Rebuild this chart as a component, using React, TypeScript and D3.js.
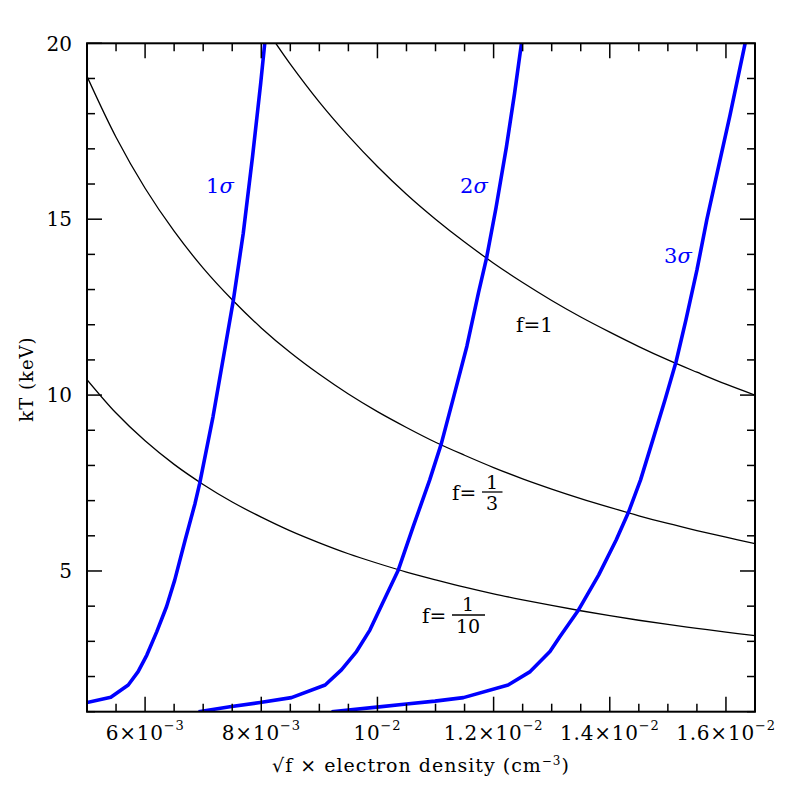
import * as d3 from "d3";

// densities are in units of 1e-3 cm^-3 (x axis is sqrt(f) * n_e)
const sigma1Density = [5.0, 5.41, 5.71, 5.88, 6.03, 6.2, 6.37, 6.51, 6.69, 6.86, 6.94, 7.17, 7.35, 7.52, 7.69, 7.85, 7.99, 8.06];
const sigma1KT = [1.26, 1.41, 1.76, 2.14, 2.61, 3.27, 3.99, 4.74, 5.88, 6.92, 7.49, 9.39, 11.09, 12.7, 14.6, 16.78, 18.86, 20.0];

const sigma2Density = [6.92, 7.46, 7.98, 8.52, 9.1, 9.38, 9.64, 9.87, 10.09, 10.36, 10.62, 10.9, 11.1, 11.3, 11.54, 11.74, 11.88, 12.04, 12.22, 12.36, 12.48];
const sigma2KT = [1.0, 1.14, 1.26, 1.4, 1.76, 2.19, 2.71, 3.32, 4.09, 5.03, 6.28, 7.59, 8.62, 9.87, 11.39, 12.91, 13.91, 15.31, 17.05, 18.57, 20.0];

const sigma3Density = [9.21, 9.99, 10.5, 10.99, 11.48, 12.25, 12.63, 12.97, 13.14, 13.45, 13.81, 14.11, 14.32, 14.53, 14.74, 14.95, 15.14, 15.31, 15.5, 15.67, 15.86, 16.07, 16.33];
const sigma3KT = [1.0, 1.13, 1.22, 1.3, 1.4, 1.76, 2.14, 2.71, 3.13, 3.86, 4.89, 5.88, 6.66, 7.59, 8.72, 9.86, 10.94, 12.13, 13.55, 14.98, 16.4, 17.96, 20.0];

const fOneDensity = [8.25, 8.5, 9, 9.5, 10, 10.5, 11, 11.5, 12, 12.5, 13, 13.5, 14, 14.5, 15, 15.5, 16, 16.5];
const fOneKT = [20.0, 19.41, 18.33, 17.37, 16.5, 15.71, 15.0, 14.35, 13.75, 13.2, 12.69, 12.22, 11.79, 11.38, 11.0, 10.65, 10.31, 10.0];

const fDensity = [5, 5.5, 6, 6.5, 7, 7.5, 8, 8.5, 9, 9.5, 10, 10.5, 11, 11.5, 12, 12.5, 13, 13.5, 14, 14.5, 15, 15.5, 16, 16.5];
const fThirdKT = [19.06, 17.33, 15.88, 14.66, 13.61, 12.71, 11.91, 11.21, 10.59, 10.03, 9.53, 9.08, 8.66, 8.29, 7.94, 7.62, 7.33, 7.06, 6.81, 6.57, 6.35, 6.15, 5.96, 5.78];
const fTenthKT = [10.44, 9.49, 8.7, 8.03, 7.46, 6.96, 6.53, 6.14, 5.8, 5.49, 5.22, 4.97, 4.75, 4.54, 4.35, 4.18, 4.02, 3.87, 3.73, 3.6, 3.48, 3.37, 3.26, 3.16];

const xMajorTicks = [6, 8, 10, 12, 14, 16];
const xTickMantissa = ["6", "8", "", "1.2", "1.4", "1.6"];
const xTickExponent = ["\u22123", "\u22123", "\u22122", "\u22122", "\u22122", "\u22122"];
const yMajorTicks = [5, 10, 15, 20];

const W = 797, H = 797;
const left = 87, right = 755, top = 43.3, bottom = 711.7;
const font = "'DejaVu Serif', serif";
const blue = "#0000ff";

export default function App() {
  const x = d3.scaleLinear().domain([5, 16.5]).range([left, right]);
  const y = d3.scaleLinear().domain([1, 20]).range([bottom, top]);

  const zip = (xs: number[], ys: number[]) => xs.map((v, i) => [v, ys[i]] as [number, number]);
  const line = d3.line<[number, number]>().x((d) => x(d[0])).y((d) => y(d[1]));
  const smooth = d3.line<[number, number]>().x((d) => x(d[0])).y((d) => y(d[1])).curve(d3.curveCatmullRom);

  const xMinor = d3.range(5, 16.51, 0.5).filter((v) => !xMajorTicks.includes(v));
  const yMinor = d3.range(1, 20.01, 1).filter((v) => !yMajorTicks.includes(v));

  const blackCurves = [zip(fOneDensity, fOneKT), zip(fDensity, fThirdKT), zip(fDensity, fTenthKT)];
  const blueCurves = [zip(sigma1Density, sigma1KT), zip(sigma2Density, sigma2KT), zip(sigma3Density, sigma3KT)];

  const major = 15, minor = 8;

  return (
    <svg width={W} height={H} style={{ position: "absolute", left: 0, top: 0, background: "#fff" }} fontFamily={font}>
      <defs>
        <clipPath id="plot">
          <rect x={left} y={top} width={right - left} height={bottom - top} />
        </clipPath>
      </defs>

      <g clipPath="url(#plot)" fill="none">
        {blackCurves.map((c, i) => (
          <path key={"b" + i} d={smooth(c) || ""} stroke="#000" strokeWidth={1.3} />
        ))}
        {blueCurves.map((c, i) => (
          <path key={"s" + i} d={line(c) || ""} stroke={blue} strokeWidth={3.6} strokeLinejoin="round" />
        ))}
      </g>

      {/* ticks on all four sides, pointing inward */}
      <g stroke="#000" strokeWidth={1.5}>
        {xMajorTicks.map((v) => (
          <g key={"xm" + v}>
            <line x1={x(v)} x2={x(v)} y1={bottom} y2={bottom - major} />
            <line x1={x(v)} x2={x(v)} y1={top} y2={top + major} />
          </g>
        ))}
        {xMinor.map((v) => (
          <g key={"xn" + v}>
            <line x1={x(v)} x2={x(v)} y1={bottom} y2={bottom - minor} />
            <line x1={x(v)} x2={x(v)} y1={top} y2={top + minor} />
          </g>
        ))}
        {yMajorTicks.map((v) => (
          <g key={"ym" + v}>
            <line x1={left} x2={left + major} y1={y(v)} y2={y(v)} />
            <line x1={right} x2={right - major} y1={y(v)} y2={y(v)} />
          </g>
        ))}
        {yMinor.map((v) => (
          <g key={"yn" + v}>
            <line x1={left} x2={left + minor} y1={y(v)} y2={y(v)} />
            <line x1={right} x2={right - minor} y1={y(v)} y2={y(v)} />
          </g>
        ))}
      </g>

      <rect x={left} y={top} width={right - left} height={bottom - top} fill="none" stroke="#000" strokeWidth={2} />

      {/* tick labels */}
      {xMajorTicks.map((v, i) => (
        <text key={"xl" + v} x={x(v)} y={740} textAnchor="middle" fontSize={20} letterSpacing={0.8}>
          {xTickMantissa[i] ? xTickMantissa[i] + "\u00d7" : ""}10
          <tspan dy={-10} fontSize={13}>{xTickExponent[i]}</tspan>
        </text>
      ))}
      {yMajorTicks.map((v) => (
        <text key={"yl" + v} x={72} y={y(v) + 7.2} textAnchor="end" fontSize={20}>
          {v}
        </text>
      ))}

      {/* axis titles */}
      <text x={421} y={772} textAnchor="middle" fontSize={19} letterSpacing={1}>
        {"\u221af \u00d7 electron density (cm"}
        <tspan dy={-7} fontSize={12}>{"\u22123"}</tspan>
        <tspan dy={7}>)</tspan>
      </text>
      <text transform="translate(33,379) rotate(-90)" textAnchor="middle" fontSize={18} letterSpacing={1}>
        kT (keV)
      </text>

      {/* curve labels */}
      <g fill={blue} fontSize={21}>
        <text x={206} y={193}>1<tspan fontStyle="italic">σ</tspan></text>
        <text x={460} y={193}>2<tspan fontStyle="italic">σ</tspan></text>
        <text x={664} y={263}>3<tspan fontStyle="italic">σ</tspan></text>
      </g>
      <g fontSize={20}>
        <text x={516} y={332}>f=1</text>
        <text x={452} y={500}>f=</text>
        <text x={492} y={489} textAnchor="middle" fontSize={19}>1</text>
        <line x1={482} x2={502.5} y1={492} y2={492} stroke="#000" strokeWidth={1.3} />
        <text x={492} y={510} textAnchor="middle" fontSize={19}>3</text>
        <text x={422} y={623}>f=</text>
        <text x={468} y={611} textAnchor="middle" fontSize={19}>1</text>
        <line x1={452} x2={485} y1={615} y2={615} stroke="#000" strokeWidth={1.3} />
        <text x={468} y={633} textAnchor="middle" fontSize={19}>10</text>
      </g>
    </svg>
  );
}
